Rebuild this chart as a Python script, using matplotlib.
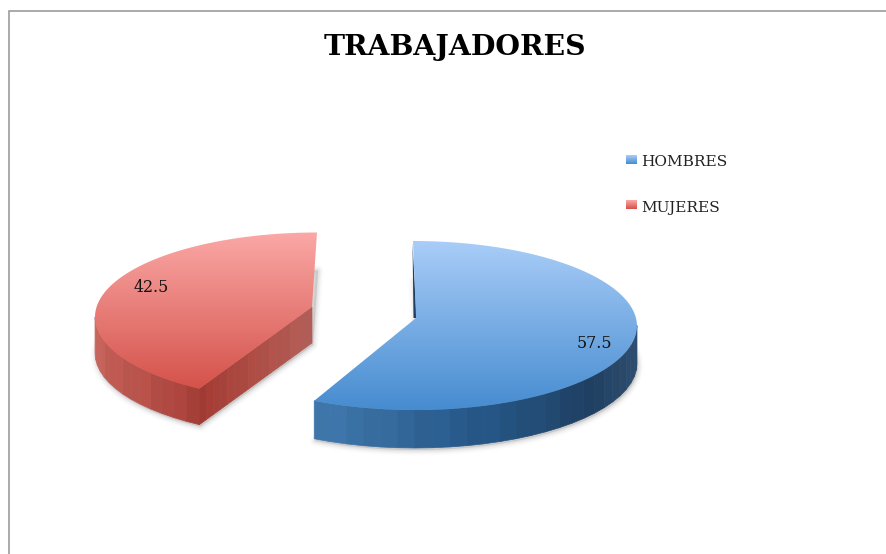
import numpy as np
import matplotlib
matplotlib.use("Agg")
import matplotlib.pyplot as plt
from matplotlib.colors import LinearSegmentedColormap, to_rgb
from matplotlib.patches import Polygon

categories = ["HOMBRES", "MUJERES"]
values = [57.5, 42.5]
title = "TRABAJADORES"

plt.rcParams["font.family"] = ["DejaVu Serif"]

fig = plt.figure(figsize=(8.87, 5.54), dpi=100)
ax = fig.add_axes([0, 0, 1, 1])
ax.set_axis_off()

sweep = [v / sum(values) * 360 for v in values]
blue_end = sweep[0]
RX, RY = 222, 84.5


def rim(cx, cy, t):
    t = np.radians(t)
    return np.column_stack([cx + RX * np.sin(t), cy - RY * np.cos(t)])


def shade(stops, f):
    pos = np.linspace(0, 1, len(stops))
    rgb = np.array([to_rgb(c) for c in stops])
    return [np.interp(f, pos, rgb[:, i]) for i in range(3)]


def shadow(points):
    for lw, a in [(8, .02), (6, .03), (4.5, .04), (3, .05), (1.5, .06)]:
        ax.add_patch(Polygon(points + [1, 2], closed=True, fc=(.4, .4, .4, a),
                             ec=(.4, .4, .4, a), lw=lw, joinstyle="round", zorder=1))


def facets(cx, cy, a, b, depth, stops, n=22):
    ts = np.linspace(a, b, n + 1)
    for i in range(n):
        f = i / (n - 1)
        c = np.clip(np.array(shade(stops, f)) * (1 + .015 * ((i * 5) % 3 - 1)), 0, 1)
        p, q = rim(cx, cy, ts[i:i + 2])
        ax.add_patch(Polygon([p, q, q + [0, depth], p + [0, depth]], closed=True,
                             fc=c, ec=c, lw=.5, zorder=3))


def top_face(points, c1, c2):
    cm = LinearSegmentedColormap.from_list("g", [c1, c2])
    x0, x1 = points[:, 0].min(), points[:, 0].max()
    y0, y1 = points[:, 1].min(), points[:, 1].max()
    im = ax.imshow(np.linspace(0, 1, 256)[:, None], cmap=cm, aspect="auto",
                   extent=[x0, x1, y1, y0], zorder=5, interpolation="bilinear")
    clip = Polygon(points, closed=True, transform=ax.transData, fc="none", ec="none")
    ax.add_patch(clip)
    im.set_clip_path(clip)


# Blue slice (HOMBRES)
cx_b, cy_b, depth_b = 415, 325.5, 38
apex = np.array([[416, 318]])
t_blue = np.linspace(0, blue_end, 160)
r_blue = rim(cx_b, cy_b, t_blue)
r_blue[:, 0] -= 2 * np.clip(np.cos(np.radians(t_blue)), 0, 1)
shadow(np.vstack([apex, r_blue]) + [0, depth_b])
facets(cx_b, cy_b, blue_end, 90, depth_b,
       ["#3F78AD", "#35699B", "#27598A", "#234E78", "#1F3F62", "#2B4A6B", "#2E4E70"], 26)
ax.add_patch(Polygon([[412.5, 243], [416.5, 318], [413.5, 318]], closed=True,
                     fc="#1F3F62", ec="none", zorder=4))
top_face(np.vstack([apex, r_blue]), "#A9CDF8", "#468CD0")

# Red slice (MUJERES)
cx_r, cy_r, depth_r = 317, 317, 36
red_start = blue_end + 5
apex_r = np.array([[312, 307]])
t_red = np.linspace(red_start, blue_end + sweep[1], 120)
r_red = rim(cx_r, cy_r, t_red)
shadow(np.vstack([apex_r, r_red]) + [0, depth_r])
facets(cx_r, cy_r, red_start, 270, depth_r, ["#A8413A", "#B8524A", "#C05C54", "#CB6A62"], 14)
tip = r_red[0]
n = 16
for i in range(n):
    a, b = i / n, (i + 1) / n
    p = tip + (apex_r[0] - tip) * a
    q = tip + (apex_r[0] - tip) * b
    c = np.clip(np.array(shade(["#A33B33", "#AE4F47", "#B4605A"], a)) * (1 + .012 * ((i * 5) % 3 - 1)), 0, 1)
    ax.add_patch(Polygon([p, q, q + [0, depth_r], p + [0, depth_r]], closed=True, fc=c,
                         ec=c, lw=.5, zorder=4))
top_face(np.vstack([apex_r, r_red]), "#FBA8A6", "#D4524A")

# Data labels
for val, (x, y) in zip(values, [(594, 347.5), (151, 292.5)]):
    ax.text(x, y, f"{val}", fontsize=11.4, ha="center", va="baseline", color="#111111", zorder=8)

# Title
ax.text(455, 55, title, fontsize=20.3, fontweight="bold", ha="center", va="baseline", color="black")

# Legend
legend_rows = [(156, 166.5), (201, 212)]
legend_cols = [("#A9CDF8", "#468CD0"), ("#FBA8A6", "#D4524A")]
for name, (sy, by), (c1, c2) in zip(categories, legend_rows, legend_cols):
    cm = LinearSegmentedColormap.from_list("l", [c1, c2])
    ax.imshow(np.linspace(0, 1, 32)[:, None], cmap=cm, aspect="auto",
              extent=[626.5, 637.5, sy + 8.5, sy], zorder=5)
    ax.text(641.5, by, name, fontsize=11.1, ha="left", va="baseline", color="#222222")

# Outer frame
ax.plot([9.5, 9.5, 887], [554, 11, 11], color="#9C9C9C", lw=1.2, solid_joinstyle="miter")

ax.set_xlim(0, 887)
ax.set_ylim(554, 0)
fig.savefig("out.png", dpi=100)
